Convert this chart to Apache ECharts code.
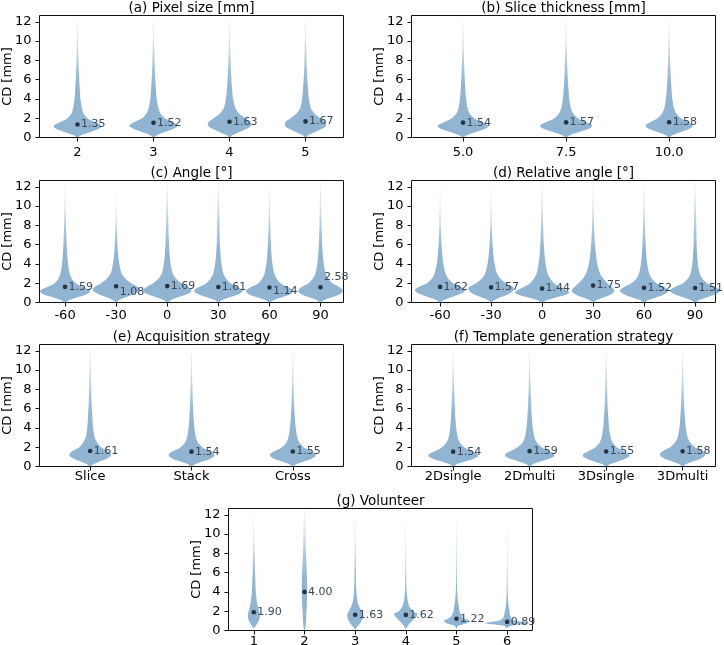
<!DOCTYPE html>
<html><head><meta charset="utf-8">
<script src="https://cdn.jsdelivr.net/npm/echarts@6/dist/echarts.min.js"></script>
<style>html,body{margin:0;padding:0;background:#fff}#c{width:724px;height:645px}</style>
</head><body><div id="c"></div>
<script>
// y-levels (mm) at which violin half-widths are given
const LEVELS = [0, 0.25, 0.5, 0.75, 1.0, 1.25, 1.5, 1.75, 2.0, 2.5, 3.0, 4.0, 5.0, 6.5, 8.5, 12.6];
const yTicks = [0, 2, 4, 6, 8, 10, 12];

// (a) Pixel size
const catsA = ['2', '3', '4', '5'];
const dotsA = [1.35, 1.52, 1.63, 1.67];
const labelsA = [1.35, 1.52, 1.63, 1.67];
const profA = [
  [0.007, 0.053, 0.145, 0.237, 0.303, 0.309, 0.25, 0.184, 0.132, 0.079, 0.059, 0.039, 0.030, 0.020, 0.011, 0.002],
  [0.007, 0.046, 0.125, 0.217, 0.289, 0.316, 0.276, 0.211, 0.151, 0.092, 0.066, 0.042, 0.032, 0.021, 0.012, 0.002],
  [0.007, 0.039, 0.112, 0.184, 0.25, 0.283, 0.283, 0.25, 0.211, 0.125, 0.079, 0.047, 0.034, 0.022, 0.012, 0.002],
  [0.007, 0.039, 0.105, 0.178, 0.243, 0.27, 0.27, 0.243, 0.197, 0.118, 0.072, 0.045, 0.033, 0.021, 0.012, 0.002]
];

// (b) Slice thickness
const catsB = ['5.0', '7.5', '10.0'];
const dotsB = [1.54, 1.57, 1.58];
const labelsB = [1.54, 1.57, 1.58];
const profB = [
  [0.005, 0.040, 0.104, 0.178, 0.233, 0.243, 0.198, 0.149, 0.109, 0.064, 0.045, 0.030, 0.022, 0.015, 0.008, 0.0015],
  [0.005, 0.040, 0.104, 0.183, 0.238, 0.252, 0.213, 0.158, 0.114, 0.069, 0.048, 0.031, 0.023, 0.015, 0.008, 0.0015],
  [0.005, 0.035, 0.094, 0.163, 0.213, 0.228, 0.198, 0.153, 0.114, 0.069, 0.048, 0.031, 0.023, 0.015, 0.008, 0.0015]
];

// (c) Angle
const catsC = ['-60', '-30', '0', '30', '60', '90'];
const dotsC = [1.62, 1.68, 1.70, 1.61, 1.55, 1.58];
const labelsC = [1.59, 1.08, 1.69, 1.61, 1.14, 2.58];
const profC = [
  [0.010, 0.079, 0.217, 0.375, 0.473, 0.483, 0.394, 0.286, 0.207, 0.128, 0.089, 0.059, 0.043, 0.028, 0.016, 0.003],
  [0.010, 0.059, 0.168, 0.296, 0.394, 0.454, 0.444, 0.375, 0.296, 0.178, 0.108, 0.063, 0.039, 0.020, 0.008, 0.001],
  [0.010, 0.069, 0.187, 0.335, 0.444, 0.473, 0.434, 0.355, 0.276, 0.168, 0.108, 0.067, 0.047, 0.032, 0.020, 0.005],
  [0.010, 0.069, 0.197, 0.345, 0.444, 0.473, 0.414, 0.316, 0.237, 0.148, 0.099, 0.063, 0.043, 0.028, 0.024, 0.004],
  [0.010, 0.079, 0.217, 0.365, 0.444, 0.454, 0.394, 0.296, 0.217, 0.138, 0.095, 0.059, 0.041, 0.026, 0.014, 0.002],
  [0.010, 0.069, 0.197, 0.335, 0.414, 0.434, 0.394, 0.316, 0.237, 0.148, 0.099, 0.063, 0.043, 0.030, 0.018, 0.004]
];

// (d) Relative angle
const catsD = ['-60', '-30', '0', '30', '60', '90'];
const dotsD = [1.62, 1.57, 1.44, 1.75, 1.52, 1.51];
const labelsD = [1.62, 1.57, 1.44, 1.75, 1.52, 1.51];
const profD = [
  [0.010, 0.069, 0.197, 0.335, 0.444, 0.493, 0.454, 0.355, 0.256, 0.158, 0.108, 0.065, 0.043, 0.024, 0.010, 0.002],
  [0.010, 0.059, 0.168, 0.296, 0.385, 0.434, 0.444, 0.375, 0.296, 0.178, 0.118, 0.069, 0.045, 0.024, 0.010, 0.002],
  [0.010, 0.099, 0.256, 0.434, 0.533, 0.493, 0.394, 0.306, 0.237, 0.158, 0.108, 0.069, 0.047, 0.030, 0.018, 0.004],
  [0.010, 0.069, 0.187, 0.316, 0.394, 0.414, 0.385, 0.335, 0.286, 0.197, 0.138, 0.083, 0.055, 0.032, 0.016, 0.003],
  [0.010, 0.079, 0.217, 0.355, 0.444, 0.473, 0.424, 0.335, 0.247, 0.148, 0.099, 0.063, 0.043, 0.028, 0.016, 0.004],
  [0.010, 0.079, 0.217, 0.355, 0.454, 0.493, 0.434, 0.335, 0.237, 0.138, 0.089, 0.055, 0.039, 0.028, 0.022, 0.006]
];

// (e) Acquisition strategy
const catsE = ['Slice', 'Stack', 'Cross'];
const dotsE = [1.61, 1.54, 1.55];
const labelsE = [1.61, 1.54, 1.55];
const profE = [
  [0.005, 0.034, 0.088, 0.152, 0.192, 0.206, 0.187, 0.147, 0.108, 0.069, 0.045, 0.029, 0.022, 0.015, 0.009, 0.0025],
  [0.005, 0.039, 0.103, 0.177, 0.216, 0.226, 0.197, 0.147, 0.108, 0.064, 0.044, 0.029, 0.021, 0.014, 0.008, 0.0015],
  [0.005, 0.039, 0.103, 0.177, 0.216, 0.226, 0.197, 0.147, 0.108, 0.064, 0.044, 0.029, 0.020, 0.013, 0.007, 0.001]
];

// (f) Template generation strategy
const catsF = ['2Dsingle', '2Dmulti', '3Dsingle', '3Dmulti'];
const dotsF = [1.54, 1.59, 1.55, 1.58];
const labelsF = [1.54, 1.59, 1.55, 1.58];
const profF = [
  [0.007, 0.053, 0.145, 0.25, 0.316, 0.322, 0.263, 0.197, 0.145, 0.086, 0.059, 0.039, 0.029, 0.020, 0.011, 0.002],
  [0.007, 0.046, 0.132, 0.237, 0.309, 0.322, 0.276, 0.211, 0.158, 0.092, 0.063, 0.041, 0.030, 0.020, 0.011, 0.002],
  [0.007, 0.053, 0.145, 0.237, 0.296, 0.303, 0.25, 0.191, 0.138, 0.086, 0.059, 0.039, 0.029, 0.018, 0.011, 0.002],
  [0.007, 0.046, 0.125, 0.217, 0.276, 0.296, 0.276, 0.224, 0.164, 0.099, 0.066, 0.042, 0.030, 0.020, 0.011, 0.002]
];

// (g) Volunteer
const catsG = ['1', '2', '3', '4', '5', '6'];
const dotsG = [1.90, 4.00, 1.63, 1.62, 1.22, 0.89];
const labelsG = [1.90, 4.00, 1.63, 1.62, 1.22, 0.89];
const profG = [
  [0, 0.006, 0.040, 0.069, 0.095, 0.113, 0.119, 0.115, 0.103, 0.079, 0.059, 0.040, 0.030, 0.020, 0.010, 0.001],
  [0.006, 0.016, 0.022, 0.026, 0.030, 0.032, 0.034, 0.036, 0.038, 0.044, 0.048, 0.053, 0.051, 0.042, 0.028, 0.008],
  [0, 0.020, 0.059, 0.099, 0.129, 0.149, 0.158, 0.154, 0.129, 0.079, 0.046, 0.024, 0.016, 0.012, 0.008, 0.001],
  [0, 0.010, 0.040, 0.079, 0.129, 0.168, 0.218, 0.228, 0.139, 0.069, 0.040, 0.016, 0.010, 0.006, 0.004, 0.001],
  [0, 0.006, 0.040, 0.198, 0.248, 0.158, 0.099, 0.075, 0.059, 0.046, 0.030, 0.014, 0.008, 0.006, 0.004, 0.001],
  [0, 0, 0.079, 0.436, 0.178, 0.089, 0.063, 0.053, 0.046, 0.028, 0.018, 0.010, 0.006, 0.004, 0.002, 0.001]
];

const FONT = '"DejaVu Sans", sans-serif';
const DOT = '#27333f';
const LABEL = '#3b4857';
const VIOLIN_FILL = {
  type: 'linear', x: 0, y: 0, x2: 0, y2: 1, global: false,
  colorStops: [
    {offset: 0, color: 'rgba(70,130,180,0.06)'},
    {offset: 0.2, color: 'rgba(70,130,180,0.22)'},
    {offset: 0.42, color: 'rgba(70,130,180,0.48)'},
    {offset: 0.58, color: 'rgba(70,130,180,0.6)'},
    {offset: 1, color: 'rgba(70,130,180,0.6)'}
  ]
};

const panels = [
  {title: '(a) Pixel size [mm]', cats: catsA, dots: dotsA, labels: labelsA, prof: profA, left: 39.5, top: 15.5, xmin: 0.5, xmax: 4.5, xm: 8.5},
  {title: '(b) Slice thickness [mm]', cats: catsB, dots: dotsB, labels: labelsB, prof: profB, left: 411.5, top: 15.5, xmin: 0.5, xmax: 3.45, xm: 8.5},
  {title: '(c) Angle [°]', cats: catsC, dots: dotsC, labels: labelsC, prof: profC, left: 39.5, top: 180.5, xmin: 0.5, xmax: 6.45, xm: 6.5},
  {title: '(d) Relative angle [°]', cats: catsD, dots: dotsD, labels: labelsD, prof: profD, left: 411.5, top: 180.5, xmin: 0.44, xmax: 6.4, xm: 6.5},
  {title: '(e) Acquisition strategy', cats: catsE, dots: dotsE, labels: labelsE, prof: profE, left: 39.5, top: 344.5, xmin: 0.5, xmax: 3.5, xm: 4},
  {title: '(f) Template generation strategy', cats: catsF, dots: dotsF, labels: labelsF, prof: profF, left: 411.5, top: 344.5, xmin: 0.455, xmax: 4.43, xm: 4},
  {title: '(g) Volunteer', cats: catsG, dots: dotsG, labels: labelsG, prof: profG, left: 228.5, top: 508.5, xmin: 0.5, xmax: 6.5, xm: 5}
];
const W = 304, H = 122;

const option = {
  animation: false,
  backgroundColor: '#fff',
  title: [], grid: [], xAxis: [], yAxis: [], series: []
};

panels.forEach((p, gi) => {
  option.title.push({
    text: p.title, left: p.left + W / 2, top: p.top - 14.5, textAlign: 'center', padding: 0,
    textStyle: {fontSize: 13.5, fontWeight: 'normal', color: '#000', fontFamily: FONT}
  });
  option.grid.push({
    left: p.left, top: p.top, width: W, height: H, show: true,
    borderColor: '#111', borderWidth: 1, backgroundColor: 'transparent', containLabel: false, outerBoundsMode: 'none'
  });
  const pos = p.cats.map((c, i) => i + 1);
  option.xAxis.push({
    type: 'value', gridIndex: gi, min: p.xmin, max: p.xmax,
    axisLine: {show: false}, splitLine: {show: false},
    axisTick: {show: true, length: 4, customValues: pos, lineStyle: {color: '#111', width: 1}},
    axisLabel: {customValues: pos, margin: p.xm, fontSize: 13, color: '#000', fontFamily: FONT,
      formatter: v => p.cats[Math.round(v) - 1] || ''}
  });
  option.yAxis.push({
    type: 'value', gridIndex: gi, min: 0, max: 12.65, interval: 2,
    name: 'CD [mm]', nameLocation: 'middle', nameGap: 25, nameMoveOverlap: false,
    nameTextStyle: {fontSize: 13, color: '#000', fontFamily: FONT},
    axisLine: {show: false}, splitLine: {show: false},
    axisTick: {show: true, length: 4, customValues: yTicks, lineStyle: {color: '#111', width: 1}},
    axisLabel: {customValues: yTicks, margin: 8, fontSize: 13, color: '#000', fontFamily: FONT}
  });
  option.series.push({
    type: 'custom', xAxisIndex: gi, yAxisIndex: gi, clip: false,
    data: p.dots.map((d, i) => [i + 1, d, p.labels[i]]),
    renderItem: (params, api) => {
      const i = params.dataIndex;
      const prof = p.prof[i];
      const x = api.value(0);
      const unit = api.size([1, 0])[0];
      const right = [], left = [];
      for (let k = 0; k < LEVELS.length; k++) {
        const c = api.coord([x, LEVELS[k]]);
        const w = prof[k] * unit;
        right.push([c[0] + w, c[1]]);
        left.push([c[0] - w, c[1]]);
      }
      const pts = right.concat(left.reverse());
      const dc = api.coord([x, api.value(1)]);
      const lc = api.coord([x, api.value(2)]);
      return {
        type: 'group',
        children: [
          {type: 'polygon', shape: {points: pts, smooth: 0.3}, style: {fill: VIOLIN_FILL, stroke: null}},
          {type: 'circle', shape: {cx: dc[0], cy: dc[1], r: 2.3}, style: {fill: DOT}},
          {type: 'text', x: lc[0] + 3.5, y: lc[1],
            style: {text: api.value(2).toFixed(2), fill: LABEL, font: '11px ' + FONT,
              align: 'left', verticalAlign: 'middle', textAlign: 'left', textVerticalAlign: 'middle'}}
        ]
      };
    }
  });
});

const chart = echarts.init(document.getElementById('c'), null, {renderer: 'canvas'});
chart.setOption(option);
</script>
</body></html>
